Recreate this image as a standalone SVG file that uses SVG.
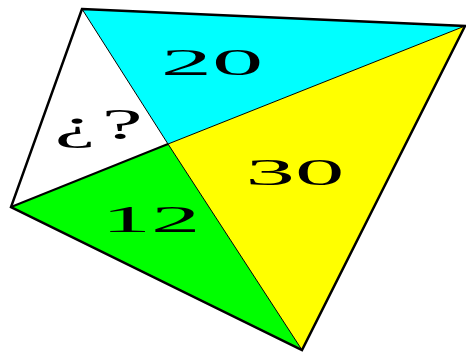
<svg xmlns="http://www.w3.org/2000/svg" width="466" height="354" viewBox="0 0 466 354">
<style>
.lbl{font-family:"Liberation Serif","Times New Roman",serif;font-size:38px;fill:#000;text-anchor:middle}
.inner{stroke:#000;stroke-width:1;fill:none}
</style>
<rect width="466" height="354" fill="#fff"/>
<g id="tri-top">
<polygon points="82,9 465,26 168,144" fill="#00ffff"/>
<text class="lbl" transform="translate(212,75) scale(2.7,1)">20</text>
</g>
<g id="tri-right">
<polygon points="465,26 302,350 168,144" fill="#ffff00"/>
<text class="lbl" transform="translate(295,185) scale(2.6,1)">30</text>
</g>
<g id="tri-bottom">
<polygon points="302,350 11,207 168,144" fill="#00ff00"/>
<text class="lbl" transform="translate(151,232) scale(2.6,1)">12</text>
</g>
<g id="tri-left">
<polygon points="11,207 82,9 168,144" fill="#ffffff"/>
<text class="lbl" style="font-size:44px" transform="translate(97,139) scale(2.1,1)"><tspan x="-10.5">¿</tspan><tspan x="12">?</tspan></text>
</g>
<g id="connectors">
<line class="inner" x1="82" y1="9" x2="168" y2="144"/>
<line class="inner" x1="465" y1="26" x2="168" y2="144"/>
<line class="inner" x1="302" y1="350" x2="168" y2="144"/>
<line class="inner" x1="11" y1="207" x2="168" y2="144" style="stroke-width:2"/>
<polygon points="82,9 465,26 302,350 11,207" fill="none" stroke="#000" stroke-width="2.5" stroke-linejoin="miter"/>
</g>
</svg>
